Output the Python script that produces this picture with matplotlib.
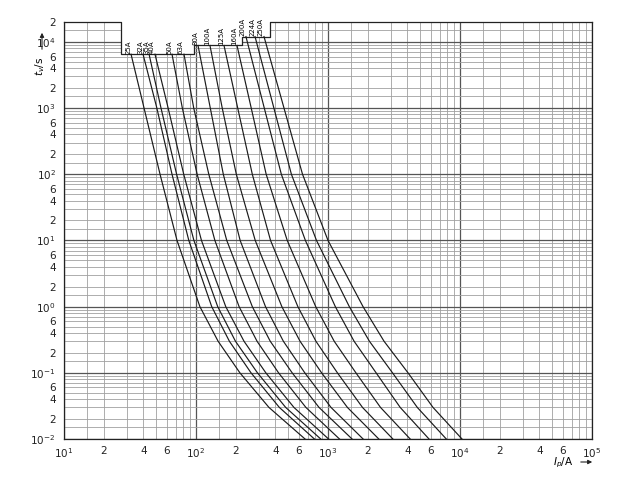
import math
import matplotlib
matplotlib.use('Agg')
import matplotlib.pyplot as plt
from matplotlib.patches import FancyArrowPatch
from matplotlib.ticker import LogLocator, FuncFormatter

# fuse ratings, in the order they are drawn
ratings = ['25A', '32A', '35A', '40A', '50A', '63A', '80A', '100A',
           '125A', '160A', '200A', '224A', '250A']

# pre-arcing time (s) where each curve starts, just under its label
t_start = [6500, 6500, 6500, 6500, 6500, 6500, 8800, 8800,
           8800, 8800, 12000, 12000, 12000]

t_pts = [1e3, 1e2, 10, 1, 0.3, 0.1, 0.03, 0.01]

# prospective current (A): start point, then one value per t_pts
i_25 = [32.2, 40.4, 53.4, 71.8, 107, 147, 215, 357, 670]
i_32 = [39.7, 50.5, 65.8, 88.2, 131.5, 179, 261, 428, 789]
i_35 = [44.1, 54.3, 71.3, 96.4, 146, 199, 292, 478, 881]
i_40 = [48.9, 61.5, 80.7, 110, 168, 231, 338, 552, 1010]
i_50 = [65.8, 78.8, 102, 139, 212, 290, 422, 680, 1222]
i_63 = [81.1, 96.1, 125, 171, 267, 365, 535, 855, 1522]
i_80 = [103.6, 128.3, 161, 216, 336, 459, 667, 1054, 1845]
i_100 = [127.6, 158, 202, 281, 447, 614, 894, 1403, 2426]
i_125 = [163, 207, 267, 367, 591, 810, 1178, 1825, 3102]
i_160 = [204.5, 262, 340, 491, 807, 1114, 1627, 2499, 4195]
i_200 = [239, 329, 443, 674, 1136, 1576, 2314, 3524, 5824]
i_224 = [280, 389, 528, 818, 1450, 2059, 3080, 4748, 7875]
i_250 = [327.5, 464, 641, 1000, 1842, 2657, 4037, 6245, 10356]

curves = [i_25, i_32, i_35, i_40, i_50, i_63, i_80, i_100,
          i_125, i_160, i_200, i_224, i_250]

# white label area at the top: steps in current and their lower edge in time
box_i = [27, 97, 223, 364]
box_t = [6500, 8800, 12000]

x_lim = (10, 1e5)
y_lim = (1e-2, 2e4)


def in_range(v, lo, hi):
    return lo * 0.999 <= v <= hi * 1.001


def make_major_label(lo, hi):
    def f(v, pos):
        if not in_range(v, lo, hi):
            return ''
        return '$10^{%d}$' % round(math.log10(v))
    return f


def make_minor_label(lo, hi):
    # only 2, 4 and 6 of every decade get a number
    def f(v, pos):
        if not in_range(v, lo, hi):
            return ''
        m = round(v / 10 ** math.floor(math.log10(v) + 1e-9), 2)
        return '%d' % m if m in (2, 4, 6) else ''
    return f


fig = plt.figure(figsize=(6.4, 4.8), dpi=100)
ax = fig.add_axes([0.1, 0.0854, 0.825, 0.869])
ax.set_xscale('log')
ax.set_yscale('log')
ax.set_xlim(*x_lim)
ax.set_ylim(*y_lim)

subs = [1.5, 2, 3, 4, 5, 6, 7, 8, 9]
for axis, lim in ((ax.xaxis, x_lim), (ax.yaxis, y_lim)):
    axis.set_major_locator(LogLocator(base=10, subs=[1.0], numticks=20))
    axis.set_minor_locator(LogLocator(base=10, subs=subs, numticks=20))
    axis.set_major_formatter(FuncFormatter(make_major_label(*lim)))
    axis.set_minor_formatter(FuncFormatter(make_minor_label(*lim)))

ax.tick_params(which='both', length=0, labelsize=7.5, colors='#222222')
ax.tick_params(axis='y', which='both', pad=6)
ax.tick_params(axis='x', which='both', pad=5)

ax.set_axisbelow(True)
ax.grid(which='major', color='#555555', linewidth=0.9)
ax.grid(which='minor', color='#a0a0a0', linewidth=0.6)

# blank the grid where the labels sit
ax.fill_between(box_i + [x_lim[1]], box_t + [y_lim[1], y_lim[1]], y_lim[1],
                step='post', color='white', zorder=1, linewidth=0)

# outline of that area, continuing as the upper frame line
out_x = [x_lim[0], box_i[0]]
out_y = [y_lim[1], y_lim[1]]
for k in range(len(box_t)):
    out_x += [box_i[k], box_i[k + 1]]
    out_y += [box_t[k], box_t[k]]
out_x += [box_i[-1], box_i[-1], x_lim[1]]
out_y += [box_t[-1], y_lim[1], y_lim[1]]
ax.plot(out_x, out_y, color='#222222', linewidth=0.9, zorder=2, clip_on=False)
ax.spines['top'].set_visible(False)
for side in ('left', 'right', 'bottom'):
    ax.spines[side].set_color('#222222')
    ax.spines[side].set_linewidth(0.9)

for name, ts, cur in zip(ratings, t_start, curves):
    ax.plot(cur, [ts] + t_pts, color='#1a1a1a', linewidth=0.85, zorder=3)
    ax.text(cur[0], ts * 1.02, name, rotation=90, ha='right', va='bottom',
            fontsize=5, zorder=4)

# axis names with their arrows
fig.text(40 / 640, 1 - 66 / 480, '$t_v$/s', rotation=90, ha='center',
         va='center', fontsize=7.5)
fig.add_artist(FancyArrowPatch(
    (42 / 640, 1 - 52 / 480), (42 / 640, 1 - 30 / 480),
    transform=fig.transFigure, arrowstyle='-|>', mutation_scale=6,
    linewidth=0.8, color='#222222'))

fig.text(553 / 640, 1 - 463 / 480, '$I_p$/A', ha='left', va='center',
         fontsize=7.5)
fig.add_artist(FancyArrowPatch(
    (578 / 640, 1 - 462 / 480), (595 / 640, 1 - 462 / 480),
    transform=fig.transFigure, arrowstyle='-|>', mutation_scale=6,
    linewidth=0.8, color='#222222'))

fig.savefig('out.png', dpi=100, facecolor='white')
